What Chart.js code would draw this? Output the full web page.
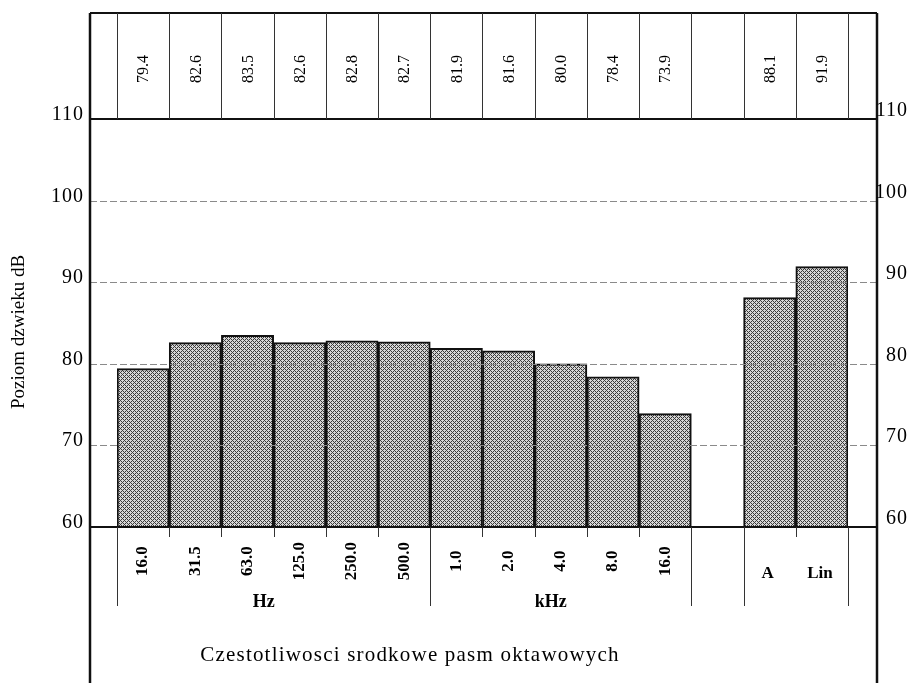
<!DOCTYPE html>
<html lang="pl">
<head>
<meta charset="UTF-8">
<title>Poziom dzwieku</title>
<script src="https://cdn.jsdelivr.net/npm/chart.js"></script>
<style>
  body { margin: 0; background: #fff; }
</style>
</head>
<body>
<canvas id="myChart" width="909" height="683"></canvas>
<script>
// dane z wykresu
const pasma = ['16.0', '31.5', '63.0', '125.0', '250.0', '500.0', '1.0', '2.0', '4.0', '8.0', '16.0', '', 'A', 'Lin'];
const poziomy = [79.4, 82.6, 83.5, 82.6, 82.8, 82.7, 81.9, 81.6, 80.0, 78.4, 73.9, null, 88.1, 91.9];
const yTicks = [60, 70, 80, 90, 100, 110];
const jednostki = ['Hz', 'kHz'];
const jednostkiOd = [0, 6];
const jednostkiDo = [5, 10];
const dlugieLinie = [0, 6, 11, 12, 14];

const FONT = '"Liberation Serif", "DejaVu Serif", serif';

function wzor() {
    const c = document.createElement('canvas');
    c.width = 4; c.height = 4;
    const g = c.getContext('2d');
    g.fillStyle = '#d6d6d6';
    g.fillRect(0, 0, 4, 4);
    g.fillStyle = '#3a3a3a';
    for (let x = 0; x < 4; x++) {
        for (let y = 0; y < 4; y++) {
            if ((x + y) % 4 === 0 || (x - y + 4) % 4 === 0) g.fillRect(x, y, 1, 1);
        }
    }
    return g.createPattern(c, 'repeat');
}

const ramka = {
    id: 'ramka',
    afterDatasetsDraw(chart) {
        const ctx = chart.ctx;
        const x = chart.scales.x, y = chart.scales.y;
        const szer = x.getPixelForValue(1) - x.getPixelForValue(0);
        const granica = i => x.getPixelForValue(0) - szer / 2 + i * szer;
        const lewa = granica(0) - 27, prawa = granica(14) + 29;
        const gora = 13, dol = 683;
        const y60 = y.getPixelForValue(60), y110 = y.getPixelForValue(110);

        ctx.save();
        // linie pomocnicze
        ctx.strokeStyle = '#8a8a8a';
        ctx.lineWidth = 1;
        ctx.setLineDash([7, 3]);
        yTicks.forEach(v => {
            if (v === 60 || v === 110) return;
            const py = Math.round(y.getPixelForValue(v)) + 0.5;
            ctx.beginPath(); ctx.moveTo(lewa, py); ctx.lineTo(prawa, py); ctx.stroke();
        });
        ctx.setLineDash([]);

        // ramka
        ctx.strokeStyle = '#111';
        ctx.lineWidth = 2;
        [gora, y110, y60].forEach(py => {
            ctx.beginPath(); ctx.moveTo(lewa, py); ctx.lineTo(prawa, py); ctx.stroke();
        });
        ctx.lineWidth = 2.5;
        [lewa, prawa].forEach(px => {
            ctx.beginPath(); ctx.moveTo(px, gora); ctx.lineTo(px, dol); ctx.stroke();
        });

        // tabela u gory i kreski na dole
        ctx.lineWidth = 1;
        ctx.strokeStyle = '#333';
        for (let i = 0; i <= pasma.length; i++) {
            const px = Math.round(granica(i)) + 0.5;
            ctx.beginPath(); ctx.moveTo(px, gora); ctx.lineTo(px, y110); ctx.stroke();
            const koniec = dlugieLinie.includes(i) ? 606 : y60 + 10;
            ctx.beginPath(); ctx.moveTo(px, y60); ctx.lineTo(px, koniec); ctx.stroke();
        }

        ctx.fillStyle = '#000';
        ctx.textAlign = 'center';
        ctx.textBaseline = 'middle';
        ctx.font = '16px ' + FONT;
        poziomy.forEach((v, i) => {
            if (v === null) return;
            ctx.save();
            ctx.translate(x.getPixelForValue(i) + 1, 69);
            ctx.rotate(-Math.PI / 2);
            ctx.fillText(v.toFixed(1), 0, 0);
            ctx.restore();
        });

        // etykiety pasm
        pasma.forEach((t, i) => {
            if (!t) return;
            const cx = x.getPixelForValue(i);
            if (isNaN(parseFloat(t))) {
                ctx.font = 'bold 17px ' + FONT;
                ctx.fillText(t, cx - 2, 574);
            } else {
                ctx.font = 'bold 17px ' + FONT;
                ctx.save();
                ctx.translate(cx, 561);
                ctx.rotate(-Math.PI / 2);
                ctx.fillText(t, 0, 0);
                ctx.restore();
            }
        });
        ctx.font = 'bold 18px ' + FONT;
        jednostki.forEach((t, k) => {
            const cx = (granica(jednostkiOd[k]) + granica(jednostkiDo[k] + 1)) / 2 - 10;
            ctx.fillText(t, cx, 602);
        });

        ctx.font = '21px ' + FONT;
        ctx.letterSpacing = '1.2px';
        ctx.fillText('Czestotliwosci srodkowe pasm oktawowych', 410, 655);
        ctx.letterSpacing = '0px';

        // os Y
        ctx.font = '20px ' + FONT;
        ctx.textBaseline = 'alphabetic';
        ctx.textAlign = 'right';
        ctx.letterSpacing = '1px';
        yTicks.forEach(v => {
            const py = y.getPixelForValue(v);
            ctx.fillText(String(v), lewa - 6, py + 1);
            ctx.fillText(String(v), 908, py - 3);
        });
        ctx.letterSpacing = '0px';

        ctx.save();
        ctx.translate(19, 332);
        ctx.rotate(-Math.PI / 2);
        ctx.textAlign = 'center';
        ctx.textBaseline = 'middle';
        ctx.font = '19px ' + FONT;
        ctx.fillText('Poziom dzwieku dB', 0, 0);
        ctx.restore();
        ctx.restore();
    }
};

const ctx = document.getElementById('myChart').getContext('2d');
const myChart = new Chart(ctx, {
    type: 'bar',
    data: {
        labels: pasma,
        datasets: [{
            data: poziomy,
            backgroundColor: wzor(),
            borderColor: '#111',
            borderWidth: 2,
            borderSkipped: false,
            barPercentage: 1,
            categoryPercentage: 1
        }]
    },
    options: {
        responsive: false,
        animation: false,
        devicePixelRatio: 1,
        layout: { padding: { left: 117, right: 61, top: 119, bottom: 156 } },
        plugins: { legend: { display: false }, tooltip: { enabled: false } },
        scales: {
            x: { display: false },
            y: { display: false, min: 60, max: 110, ticks: { stepSize: 10 } }
        }
    },
    plugins: [ramka]
});
</script>
</body>
</html>
